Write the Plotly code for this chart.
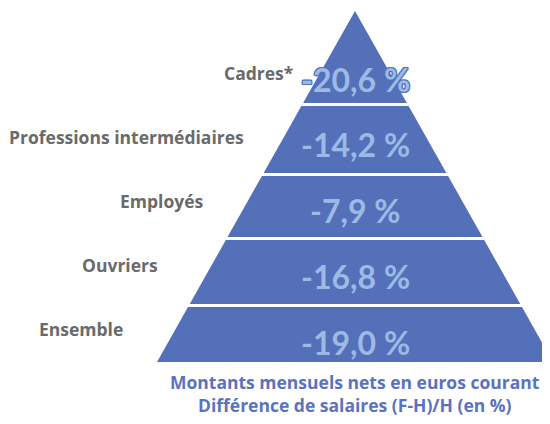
import plotly.graph_objects as go

# Ecart de salaire femmes/hommes par catégorie socioprofessionnelle
categories = ["Cadres*", "Professions intermédiaires", "Employés", "Ouvriers", "Ensemble"]
ecarts = [-20.6, -14.2, -7.9, -16.8, -19.0]
subtitle = ["Montants mensuels nets en euros courant", "Différence de salaires (F-H)/H (en %)"]

# geometry of the pyramid (pixel-like coordinates, y going down)
apex_x, apex_y = 355, 11
base_y, base_half = 362, 198
bands = [(11, 103), (106, 173), (176, 237), (240, 304), (307, 362)]
label_right = [295, 246, 206, 160, 125]
label_y = [73, 137, 201, 265, 329]
value_y = [79, 144, 210, 276, 342]
subtitle_y = [382, 405]

BLUE = "#5470b8"
LIGHT = "#9cbae6"
GREY = "#6a6a6a"
VFONT = "Lato"
TFONT = "Open Sans"
OFFSET = 8  # page body margin around the plot div
W, H = 550 - 2 * OFFSET, 424 - 2 * OFFSET


def half_width(y):
    return base_half * (y - apex_y) / (base_y - apex_y)


fig = go.Figure()

for cat, (y0, y1) in zip(categories, bands):
    w0, w1 = half_width(y0), half_width(y1)
    fig.add_trace(go.Scatter(
        x=[apex_x - w0, apex_x + w0, apex_x + w1, apex_x - w1, apex_x - w0],
        y=[y0, y0, y1, y1, y0],
        mode="lines", fill="toself", fillcolor=BLUE,
        line=dict(width=0, color=BLUE), name=cat, hoverinfo="name",
    ))

outline = ", ".join(f"{dx}px {dy}px 0 {BLUE}" for dx in (-1, 0, 1) for dy in (-1, 0, 1) if dx or dy)

for i, (cat, v) in enumerate(zip(categories, ecarts)):
    txt = f"{v:.1f}".replace(".", ",") + " %"
    fig.add_annotation(x=apex_x, y=value_y[i], text=txt, showarrow=False,
                       xanchor="center", yanchor="middle",
                       font=dict(family=VFONT, size=32, color=LIGHT, weight="bold", shadow=outline))
    fig.add_annotation(x=label_right[i], y=label_y[i], text=cat, showarrow=False,
                       xanchor="right", yanchor="middle",
                       font=dict(family=TFONT, size=17.5, color=GREY, weight="bold"))

for line, y in zip(subtitle, subtitle_y):
    fig.add_annotation(x=apex_x, y=y, text=line, showarrow=False,
                       xanchor="center", yanchor="middle",
                       font=dict(family=TFONT, size=17.5, color="#5a72c0", weight="bold"))

fig.update_layout(
    width=W, height=H,
    margin=dict(l=0, r=0, t=0, b=0),
    paper_bgcolor="white", plot_bgcolor="white",
    showlegend=False,
    xaxis=dict(range=[OFFSET, OFFSET + W], visible=False, fixedrange=True),
    yaxis=dict(range=[OFFSET + H, OFFSET], visible=False, fixedrange=True),
)

fig.write_html("out.html")
